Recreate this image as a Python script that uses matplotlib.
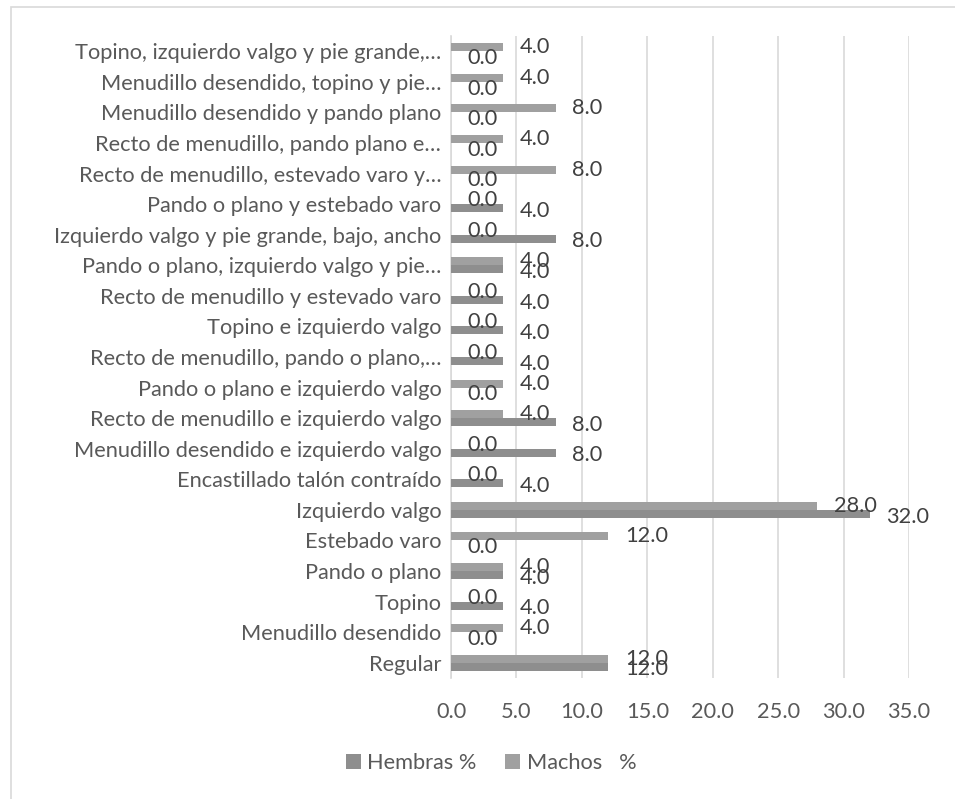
import matplotlib
matplotlib.use("Agg")
import matplotlib.pyplot as plt
import numpy as np
from matplotlib.patches import Rectangle

plt.rcParams["font.family"] = ["Lato", "DejaVu Sans"]

categorias = [
    "Topino, izquierdo valgo y pie grande,…",
    "Menudillo desendido, topino y pie…",
    "Menudillo desendido y pando plano",
    "Recto de menudillo, pando plano e…",
    "Recto de menudillo, estevado varo y…",
    "Pando o plano y estebado varo",
    "Izquierdo valgo y pie grande, bajo, ancho",
    "Pando o plano, izquierdo valgo y pie…",
    "Recto de menudillo y estevado varo",
    "Topino e izquierdo valgo",
    "Recto de menudillo, pando o plano,…",
    "Pando o plano e izquierdo valgo",
    "Recto de menudillo e izquierdo valgo",
    "Menudillo desendido e izquierdo valgo",
    "Encastillado talón contraído",
    "Izquierdo valgo",
    "Estebado varo",
    "Pando o plano",
    "Topino",
    "Menudillo desendido",
    "Regular",
]
machos = [4, 4, 8, 4, 8, 0, 0, 4, 0, 0, 0, 4, 4, 0, 0, 28, 12, 4, 0, 4, 12]
hembras = [0, 0, 0, 0, 0, 4, 8, 4, 4, 4, 4, 0, 8, 8, 4, 32, 0, 4, 4, 0, 12]
ticks = [0, 5, 10, 15, 20, 25, 30, 35]

fs = 15.7
fig = plt.figure(figsize=(9.55, 7.99), dpi=100)
fig.patches.append(Rectangle((11 / 955, -0.1), 1.1, 1 - 7 / 799 + 0.1,
                             transform=fig.transFigure, fill=False,
                             edgecolor="#d9d9d9", linewidth=1.2))
ax = fig.add_axes([451 / 955, 1 - 678 / 799, (909 - 451) / 955, (678 - 36) / 799])

y = np.arange(len(categorias))
h = 0.26
ax.barh(y - h / 2, machos, height=h, color="#a0a0a0", label="Machos   %", zorder=3)
ax.barh(y + h / 2, hembras, height=h, color="#8e8e8e", label="Hembras %", zorder=3)

txt = "#404040"
for yi, m, f in zip(y, machos, hembras):
    ax.annotate(f"{m:.1f}", (m, yi - h / 2), xytext=(12, 0), textcoords="offset points",
                ha="left", va="center", fontsize=fs, color=txt, zorder=4)
    ax.annotate(f"{f:.1f}", (f, yi + h / 2), xytext=(12, -2), textcoords="offset points",
                ha="left", va="center", fontsize=fs, color=txt, zorder=4)

ax.set_ylim(len(categorias) - 0.5, -0.5)
ax.set_xlim(0, 35)
ax.set_xticks(ticks)
ax.set_xticklabels([f"{t:.1f}" for t in ticks])
ax.set_yticks(y)
ax.set_yticklabels(categorias)
ax.tick_params(axis="both", length=0, labelsize=fs, labelcolor="#595959")
ax.tick_params(axis="y", pad=7)
ax.tick_params(axis="x", pad=17)
ax.xaxis.grid(True, color="#d9d9d9", linewidth=1.2, zorder=0)
for s in ["top", "right", "bottom"]:
    ax.spines[s].set_visible(False)
ax.spines["left"].set_color("#d9d9d9")
ax.spines["left"].set_linewidth(1.2)

handles, labels = ax.get_legend_handles_labels()
fig.legend(handles[::-1], labels[::-1], loc="center", bbox_to_anchor=(491 / 955, 1 - 763 / 799),
           ncol=2, frameon=False, fontsize=fs, labelcolor="#595959",
           handlelength=0.7, handleheight=0.7, handletextpad=0.3, columnspacing=1.3)

fig.savefig("out.png", dpi=100)
